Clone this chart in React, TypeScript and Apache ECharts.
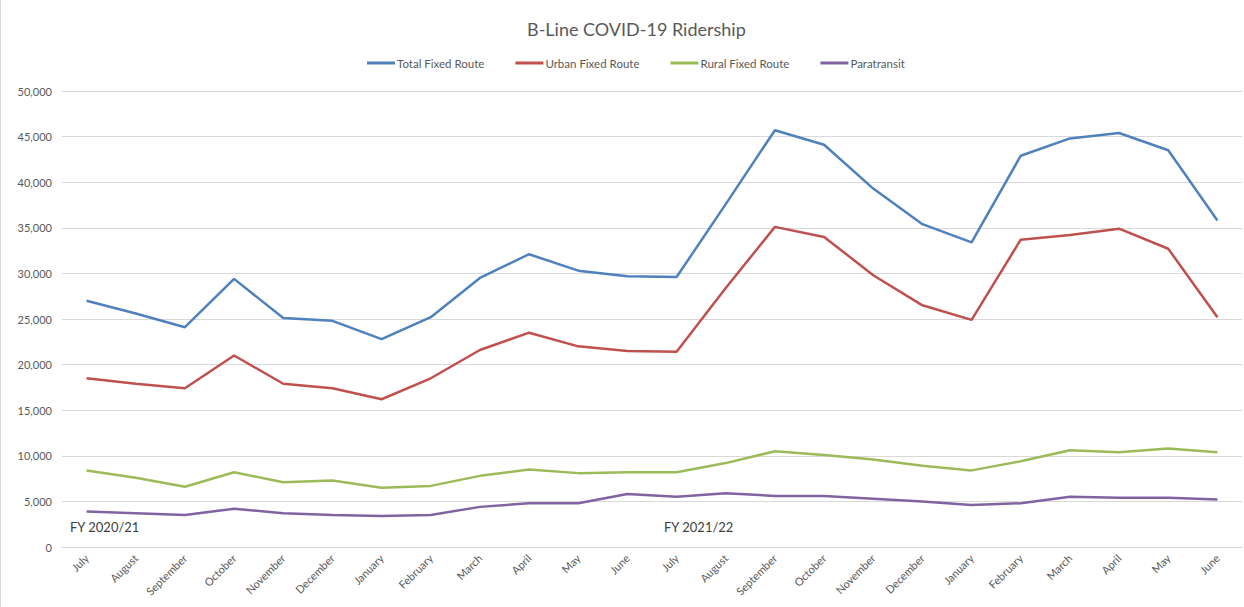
import React, { useEffect, useRef } from "react";
import * as echarts from "echarts";

const months = [
  "July", "August", "September", "October", "November", "December",
  "January", "February", "March", "April", "May", "June",
  "July", "August", "September", "October", "November", "December",
  "January", "February", "March", "April", "May", "June",
];

const totalFixed = [
  27000, 25600, 24100, 29400, 25100, 24800, 22800, 25200, 29500, 32100, 30300, 29700,
  29600, 37600, 45700, 44100, 39300, 35400, 33400, 42900, 44800, 45400, 43500, 35800,
];
const urbanFixed = [
  18500, 17900, 17400, 21000, 17900, 17400, 16200, 18500, 21600, 23500, 22000, 21500,
  21400, 28400, 35100, 34000, 29800, 26500, 24900, 33700, 34200, 34900, 32700, 25200,
];
const ruralFixed = [
  8400, 7600, 6600, 8200, 7100, 7300, 6500, 6700, 7800, 8500, 8100, 8200,
  8200, 9200, 10500, 10100, 9600, 8900, 8400, 9400, 10600, 10400, 10800, 10400,
];
const paratransit = [
  3900, 3700, 3500, 4200, 3700, 3500, 3400, 3500, 4400, 4800, 4800, 5800,
  5500, 5900, 5600, 5600, 5300, 5000, 4600, 4800, 5500, 5400, 5400, 5200,
];

const seriesNames = ["Total Fixed Route", "Urban Fixed Route", "Rural Fixed Route", "Paratransit"];
const seriesColors = ["#4F81BD", "#C0504D", "#9BBB59", "#8064A2"];
const fyLabels = ["FY 2020/21", "FY 2021/22"];

const FONT = "Lato, 'Open Sans', sans-serif";
const GRAY = "#595959";

export default function App() {
  const ref = useRef<HTMLDivElement>(null);
  useEffect(() => {
    if (!ref.current) return;
    const chart = echarts.init(ref.current, undefined, { renderer: "svg" });
    const data = [totalFixed, urbanFixed, ruralFixed, paratransit];
    chart.setOption({
      animation: false,
      backgroundColor: "#ffffff",
      textStyle: { fontFamily: FONT },
      title: {
        text: "B-Line COVID-19 Ridership",
        left: 522,
        top: 15,
        textStyle: { fontFamily: FONT, fontSize: 18, fontWeight: "normal", color: GRAY },
      },
      legend: {
        top: 52,
        left: 362,
        itemWidth: 28,
        itemHeight: 3,
        itemGap: 31,
        icon: "rect",
        textStyle: { fontFamily: FONT, fontSize: 11.5, color: GRAY, padding: [0, 0, 0, -3] },
        data: seriesNames,
      },
      grid: { left: 62, right: 2, top: 91, bottom: 60, containLabel: false },
      xAxis: {
        type: "category",
        data: months,
        boundaryGap: true,
        axisLine: { show: true, lineStyle: { color: "#d9d9d9" } },
        axisTick: { show: false },
        axisLabel: {
          rotate: 45,
          interval: 0,
          fontFamily: FONT,
          fontSize: 11,
          color: GRAY,
          margin: 9,
        },
      },
      yAxis: {
        type: "value",
        min: 0,
        max: 50000,
        interval: 5000,
        axisLine: { show: false },
        axisTick: { show: false },
        splitLine: { lineStyle: { color: "#d9d9d9", width: 1 } },
        axisLabel: {
          fontFamily: FONT,
          fontSize: 11,
          color: GRAY,
          margin: 10,
          formatter: (v: number) => v.toLocaleString("en-US"),
        },
      },
      series: data.map((d, i) => ({
        name: seriesNames[i],
        type: "line",
        data: d,
        symbol: "none",
        color: seriesColors[i],
        lineStyle: { width: 2.5, color: seriesColors[i] },
        z: 10 - i,
      })),
      graphic: [
        {
          type: "text",
          left: 70,
          top: 520,
          style: { text: fyLabels[0], fontFamily: FONT, fontSize: 13, fill: "#404040" },
        },
        {
          type: "text",
          left: 664,
          top: 520,
          style: { text: fyLabels[1], fontFamily: FONT, fontSize: 13, fill: "#404040" },
        },
        {
          type: "line",
          shape: { x1: 0.5, y1: 0, x2: 0.5, y2: 607 },
          style: { stroke: "#d9d9d9", lineWidth: 1 },
        },
      ],
    });
    return () => chart.dispose();
  }, []);
  return (
    <div
      ref={ref}
      style={{ position: "fixed", left: 0, top: 0, width: 1244, height: 607, background: "#fff" }}
    />
  );
}
